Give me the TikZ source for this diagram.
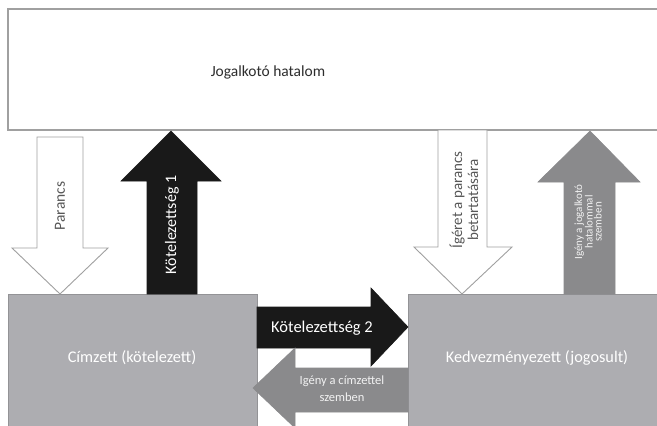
\documentclass[tikz,border=0pt]{standalone}
\usepackage{fontspec}
\setmainfont{Carlito}
\definecolor{boxgray}{RGB}{173,173,177}
\definecolor{arrowgray}{RGB}{138,138,140}
\definecolor{linegray}{RGB}{160,160,160}
\definecolor{textgray}{RGB}{45,45,45}
\tikzset{
	whitearrow/.style={draw=linegray, fill=white, line width=0.9pt},
	blackarrow/.style={draw=black!90, fill=black!90, line width=0.6pt},
	grayarrow/.style={draw=arrowgray, fill=arrowgray, line width=0.6pt},
	boxtext/.style={text=white, font=\fontsize{16.3}{18}\selectfont},
}

\begin{document}
\begin{tikzpicture}[x=1pt, y=-1pt]
		\useasboundingbox (0, 0) rectangle (657, 426);
		\clip (0, 0) rectangle (657, 426);
		\fill[white] (0, 0) rectangle (657, 426);
		
		% boxes
		\draw[draw=linegray, fill=white, line width=1.2pt] (8, 9) rectangle (670, 130);
		\draw[draw=boxgray!85!black, fill=boxgray, line width=0.8pt] (8, 294) rectangle (257, 440);
		\draw[draw=boxgray!85!black, fill=boxgray, line width=0.8pt] (408, 294) rectangle (670, 440);
		
		\node[text=textgray, font=\fontsize{15.5}{18}\selectfont] (hatalom) at (268, 72) {Jogalkotó hatalom};
		\node[boxtext] (cimzett) at (132, 358) {Címzett (kötelezett)};
		\node[boxtext] (kedvezmenyezett) at (537, 358) {Kedvezményezett (jogosult)};
		
		% vertical arrows
		\draw[whitearrow] (37, 137) -- (83, 137) -- (83, 248) -- (108, 248) -- (60, 294) -- (12, 248) -- (37, 248) -- cycle;
		\draw[blackarrow] (147, 294) -- (147, 181) -- (121, 181) -- (171, 131) -- (221, 181) -- (197, 181) -- (197, 294) -- cycle;
		\draw[whitearrow] (438, 130) -- (487, 130) -- (487, 247) -- (512, 247) -- (462, 294) -- (414, 247) -- (438, 247) -- cycle;
		\draw[grayarrow] (564, 294) -- (564, 182) -- (538, 182) -- (590, 131) -- (640, 182) -- (615, 182) -- (615, 294) -- cycle;
		
		\node[rotate=90, text=textgray!80, font=\fontsize{15.5}{18}\selectfont] (parancs) at (60, 206) {Parancs};
		\node[rotate=90, text=white, font=\fontsize{16}{18}\selectfont] (kot1) at (172, 225) {Kötelezettség 1};
		\node[rotate=90, text=textgray!80, align=center, font=\fontsize{15}{16}\selectfont] (igeret) at (464, 200) {Ígéret a parancs\\betartatására};
		\node[rotate=90, text=white!90!gray, align=center, font=\fontsize{11}{9}\selectfont] (igeny1) at (588, 222) {Igény a jogalkotó\\hatalommal\\szemben};
		
		% horizontal arrows
		\draw[blackarrow] (257, 307) -- (371, 307) -- (371, 288) -- (408, 327) -- (371, 366) -- (371, 348) -- (257, 348) -- cycle;
		\draw[grayarrow] (408, 368) -- (295, 368) -- (295, 348) -- (253, 388) -- (295, 428) -- (295, 412) -- (408, 412) -- cycle;
		
		\node[text=white, font=\fontsize{16.5}{18}\selectfont] (kot2) at (322, 328) {Kötelezettség 2};
		\node[text=white!90!gray, align=center, font=\fontsize{12.5}{17}\selectfont] (igeny2) at (342, 389) {Igény a címzettel\\szemben};
	\end{tikzpicture}
\end{document}
